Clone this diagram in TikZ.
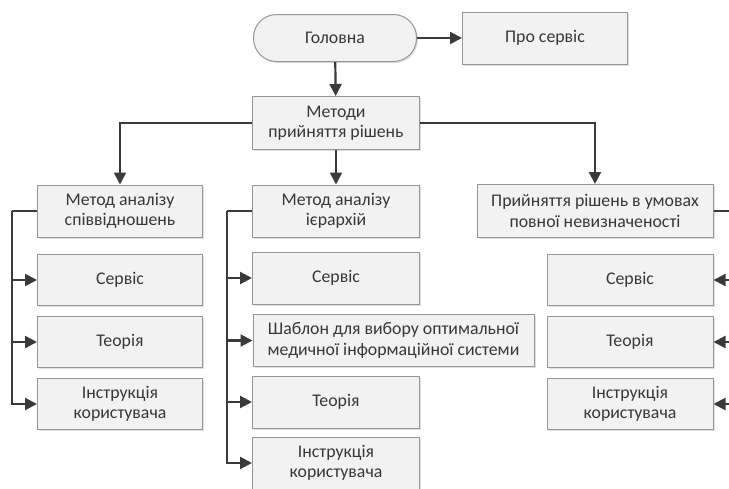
\documentclass[tikz,border=0pt]{standalone}
\usepackage{fontspec}
\setmainfont{Carlito}
\usetikzlibrary{arrows.meta, positioning, shadows}
\definecolor{boxfill}{RGB}{242,242,242}
\definecolor{boxedge}{RGB}{150,150,150}
\definecolor{linkgray}{RGB}{58,58,58}
\definecolor{textgray}{RGB}{55,55,55}

\tikzset{
  menubox/.style={draw=boxedge, fill=boxfill, line width=1pt,
    minimum width=165pt, minimum height=52pt, align=center,
    text=textgray, font=\fontsize{17.8}{20.5}\selectfont,
    drop shadow={shadow xshift=1.5pt, shadow yshift=-1.5pt, opacity=0.25}},
  homebox/.style={menubox, rounded corners=23pt, minimum height=47pt, minimum width=163pt},
  link/.style={draw=linkgray, line width=2.2pt, -{Triangle[length=12pt, width=12pt]}},
  bus/.style={draw=linkgray, line width=2.2pt}
}

\begin{document}
\begin{tikzpicture}[x=1pt, y=-1pt]
    \clip (0,0) rectangle (729,488);

    % Top level
    \node[homebox] (home) at (335,38) {Головна};
    \node[menubox] (about) at (545,38) {Про сервіс};
    \node[menubox, minimum width=167pt, minimum height=53pt] (methods) at (336,123) {Методи\\прийняття рішень};

    % Methods
    \node[menubox] (ratio) at (120,211) {Метод аналізу\\співвідношень};
    \node[menubox, minimum width=167pt] (ahp) at (336,211) {Метод аналізу\\ієрархій};
    \node[menubox, minimum width=236pt, minimum height=53pt] (uncert) at (595,211) {Прийняття рішень в умовах\\повної невизначеності};

    % Left column
    \node[menubox, minimum height=51pt] (ratioserv) at (120,280) {Сервіс};
    \node[menubox, minimum height=51pt] (ratiotheory) at (120,342) {Теорія};
    \node[menubox, minimum height=51pt] (ratioguide) at (120,404) {Інструкція\\користувача};

    % Middle column
    \node[menubox, minimum width=167pt] (ahpserv) at (336,278) {Сервіс};
    \node[menubox, minimum width=281pt] (ahptempl) at (393.5,340.5) {Шаблон для вибору оптимальної\\медичної інформаційної системи};
    \node[menubox, minimum width=167pt] (ahptheory) at (336,402) {Теорія};
    \node[menubox, minimum width=167pt] (ahpguide) at (336,463) {Інструкція\\користувача};

    % Right column
    \node[menubox, minimum width=166pt, minimum height=51pt] (uncserv) at (630,280) {Сервіс};
    \node[menubox, minimum width=166pt, minimum height=51pt] (unctheory) at (630,342) {Теорія};
    \node[menubox, minimum width=166pt, minimum height=51pt] (uncguide) at (630,404) {Інструкція\\користувача};

    % Bus points
    \coordinate (lbus) at (12,211);
    \coordinate (mbus) at (227,211);
    \coordinate (rbus) at (745,211);

    % Connectors
    \draw[link] (home) -- (about);
    \draw[link] (home) -- (methods);
    \draw[link] (methods) -- (ahp);
    \draw[link] (methods.west) -| (ratio.north);
    \draw[link] (methods.east) -| (uncert.north);

    \draw[bus] (ratio.west) -- (lbus);
    \foreach \n in {ratioserv, ratiotheory, ratioguide}
        \draw[link] (lbus) |- (\n.west);

    \draw[bus] (ahp.west) -- (mbus);
    \foreach \n in {ahpserv, ahptempl, ahptheory, ahpguide}
        \draw[link] (mbus) |- (\n.west);

    \draw[bus] (uncert.east) -- (rbus);
    \foreach \n in {uncserv, unctheory, uncguide}
        \draw[link] (rbus) |- (\n.east);
\end{tikzpicture}
\end{document}
